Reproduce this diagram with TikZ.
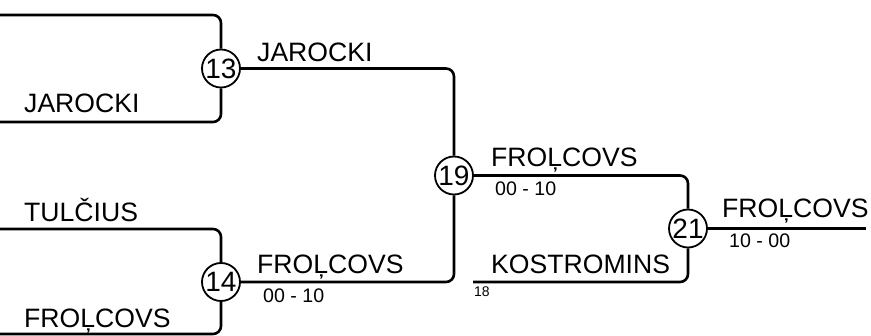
\documentclass[tikz,border=0pt]{standalone}
\usepackage{fontspec}
\setmainfont{Liberation Sans}
\begin{document}
\begin{tikzpicture}[x=1pt,y=-1pt,
  conn/.style={line width=2.6pt, rounded corners=8pt},
  match/.style={circle, draw, line width=1.8pt, minimum size=38pt, inner sep=0pt, font=\fontsize{28}{28}\selectfont},
  player/.style={anchor=base west, inner sep=0pt, font=\fontsize{26.6}{26.6}\selectfont},
  score/.style={anchor=base west, inner sep=0pt, font=\fontsize{19.6}{19.6}\selectfont},
  seed/.style={anchor=base west, inner sep=0pt, font=\fontsize{14}{14}\selectfont}]
\useasboundingbox (0,0) rectangle (871,336);

% match circles
\node[match] (m13) at (221,68.5) {13};
\node[match] (m14) at (221,282) {14};
\node[match] (m19) at (454,175.5) {19};
\node[match] (m21) at (688,228.5) {21};

% free ends
\coordinate (s1) at (0,15);
\coordinate (s2) at (0,122);
\coordinate (s3) at (0,229);
\coordinate (s4) at (0,334);
\coordinate (s5) at (473,282);
\coordinate (w) at (866,228.5);

% connectors
\draw[conn] (s1) -| (m13.north);
\draw[conn] (s2) -| (m13.south);
\draw[conn] (s3) -| (m14.north);
\draw[conn] (s4) -| (m14.south);
\draw[conn] (m13.east) -| (m19.north);
\draw[conn] (m14.east) -| (m19.south);
\draw[conn] (m19.east) -| (m21.north);
\draw[conn] (s5) -| (m21.south);
\draw[conn] (m21.east) -- (w);

% labels
\node[player] (t1) at (24,113) {JAROCKI};
\node[player] (t2) at (24,222) {TULČIUS};
\node[player] (t3) at (24,328) {FROĻCOVS};
\node[player] (t4) at (257,62) {JAROCKI};
\node[player] (t5) at (257,274) {FROĻCOVS};
\node[score]  (c5) at (263,303) {00 - 10};
\node[player] (t6) at (491,167) {FROĻCOVS};
\node[score]  (c6) at (495,196) {00 - 10};
\node[player] (t7) at (491,274) {KOSTROMINS};
\node[seed]   (d7) at (474,297) {18};
\node[player] (t8) at (722,218) {FROĻCOVS};
\node[score]  (c8) at (729,248) {10 - 00};
\end{tikzpicture}
\end{document}
